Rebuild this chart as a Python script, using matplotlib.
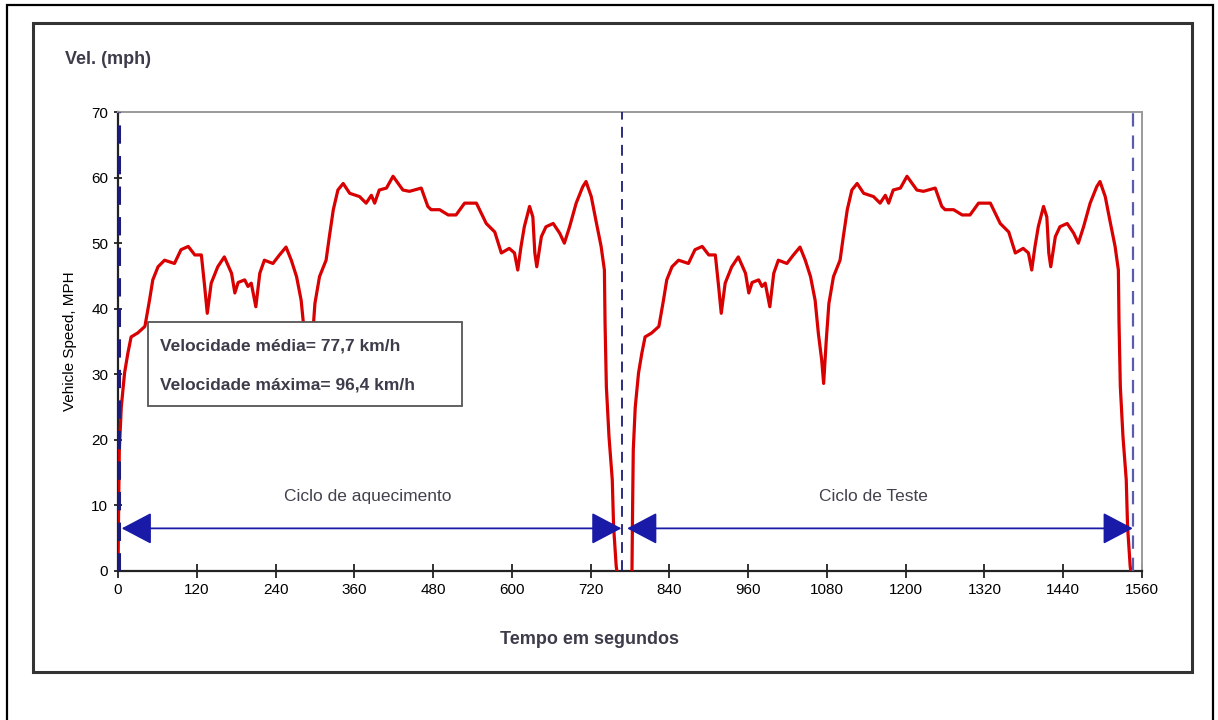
import matplotlib
matplotlib.use("Agg")
import matplotlib.pyplot as plt
from matplotlib.patches import Rectangle, FancyArrowPatch, ArrowStyle
import numpy as np

# ---- data (one HWFET cycle) ----
cycle_time = [0, 1, 2, 5, 10, 15, 20, 30, 41, 48, 53, 61, 71, 86, 96, 107, 117, 127,
              132, 136, 142, 152, 162, 173, 178, 183, 193, 198, 203, 210, 216, 223,
              236, 246, 256, 264, 272, 279, 284, 289, 292, 296, 300, 307, 317, 322,
              328, 335, 343, 353, 368, 378, 386, 391, 398, 409, 419, 434, 444, 462,
              472, 477, 490, 503, 515, 528, 546, 561, 574, 584, 596, 604, 609, 614,
              619, 627, 632, 635, 638, 645, 652, 663, 673, 680, 688, 698, 708, 713,
              721, 728, 736, 741, 742, 744, 748, 753, 755, 759, 760]
cycle_speed = [0, 10, 18.5, 25, 30.2, 33.2, 35.7, 36.3, 37.3, 41.3, 44.4, 46.4, 47.4,
               46.9, 49.0, 49.5, 48.2, 48.2, 43.4, 39.3, 43.9, 46.4, 47.9, 45.4, 42.4,
               44.0, 44.4, 43.4, 43.9, 40.3, 45.4, 47.4, 46.9, 48.2, 49.4, 47.4, 44.9,
               41.3, 36.2, 32.2, 28.6, 35.2, 40.8, 44.9, 47.4, 51.0, 55.1, 58.1, 59.1,
               57.6, 57.1, 56.1, 57.3, 56.1, 58.1, 58.4, 60.2, 58.1, 57.9, 58.4, 55.6,
               55.1, 55.1, 54.3, 54.3, 56.1, 56.1, 53.0, 51.7, 48.5, 49.2, 48.5, 45.9,
               49.5, 52.5, 55.6, 54.0, 48.5, 46.4, 51.0, 52.5, 53.0, 51.5, 50.0, 52.5,
               56.1, 58.6, 59.4, 57.1, 53.5, 49.5, 45.9, 37.8, 28.1, 20.5, 13.9, 6.8,
               0.7, 0]
cycle_starts = [0, 783]          # warm-up cycle, test cycle
cycle_bounds = [1, 768, 1546]    # dashed vertical markers
arrow_spans = [(5.6, 767), (775.6, 1546)]
arrow_level = 6.5
cycle_labels = ["Ciclo de aquecimento", "Ciclo de Teste"]
cycle_label_x = [381, 1151]
x_ticks = list(range(0, 1561, 120))
y_ticks = list(range(0, 71, 10))
info_lines = ["Velocidade média= 77,7 km/h", "Velocidade máxima= 96,4 km/h"]

plt.rcParams['font.family'] = ['Liberation Sans', 'DejaVu Sans']

fig = plt.figure(figsize=(12.18, 7.2), dpi=100)
fig.patch.set_facecolor('white')
ax = fig.add_axes([118/1218, 1-571/720, 1024/1218, 459/720])

for start in cycle_starts:
    ax.plot(np.array(cycle_time) + start, cycle_speed, color='#d80000', lw=2.3,
            solid_joinstyle='round', zorder=3)

dash_cols = ['#1c1c78', '#1c1c78', '#5c5cae']
dash_lw = [2.2, 1.3, 1.6]
for xb, c, lw in zip(cycle_bounds, dash_cols, dash_lw):
    ax.axvline(xb, color=c, lw=lw, ls=(0, (6, 4)), zorder=4)

style = ArrowStyle('<|-|>', head_length=19, head_width=10)
for (a, b) in arrow_spans:
    ax.add_patch(FancyArrowPatch((a, arrow_level), (b, arrow_level), arrowstyle=style,
                                 mutation_scale=1, color='#1a1aa8', lw=1.3,
                                 shrinkA=0, shrinkB=0, zorder=5))
for lab, xl in zip(cycle_labels, cycle_label_x):
    ax.text(xl, 11.3, lab, ha='center', va='center', fontsize=12.5, color='#42424e')

ax.set_xlim(0, 1560)
ax.set_ylim(0, 70)
ax.set_xticks(x_ticks)
ax.set_yticks(y_ticks)
tick_font = ['Liberation Sans Narrow', 'Liberation Sans']
ax.set_xticklabels([str(v) for v in x_ticks], fontfamily=tick_font, fontsize=11)
ax.set_yticklabels([str(v) for v in y_ticks], fontfamily=tick_font, fontsize=11)
ax.tick_params(axis='x', direction='inout', length=10, width=1.3, pad=4, color='#222222')
ax.tick_params(axis='y', direction='inout', length=6, width=1.3, pad=4, color='#222222')
for s in ['left', 'bottom']:
    ax.spines[s].set_color('#222222')
    ax.spines[s].set_linewidth(1.6)
for s in ['top', 'right']:
    ax.spines[s].set_color('#9a9a9a')
    ax.spines[s].set_linewidth(1.4)
ax.set_ylabel('Vehicle Speed, MPH', fontfamily=tick_font, fontsize=11, labelpad=10)

fig.text(590/1218, 1-640/720, 'Tempo em segundos', ha='center', va='center',
         fontsize=13, fontweight='bold', color='#3c3c4a')
fig.text(65/1218, 1-60/720, 'Vel. (mph)', ha='left', va='center',
         fontsize=13, fontweight='bold', color='#3c3c4a')

# info box
fig.add_artist(Rectangle((148/1218, 1-406/720), 314/1218, 84/720, transform=fig.transFigure,
                         facecolor='white', edgecolor='#555555', lw=1.3, zorder=5))
for i, line in enumerate(info_lines):
    fig.text(160/1218, 1-(346+39*i)/720, line, ha='left', va='center', fontsize=12.5,
             fontweight='bold', color='#3c3c4a', zorder=6)

# frames
fig.add_artist(Rectangle((33/1218, 1-672/720), 1159/1218, 649/720, transform=fig.transFigure,
                         facecolor='none', edgecolor='#333333', lw=2.2, zorder=7))
fig.add_artist(Rectangle((7/1218, -0.1), 1206/1218, 1.1-5/720, transform=fig.transFigure,
                         facecolor='none', edgecolor='black', lw=1.6, zorder=7))

fig.savefig('out.png', dpi=100)
